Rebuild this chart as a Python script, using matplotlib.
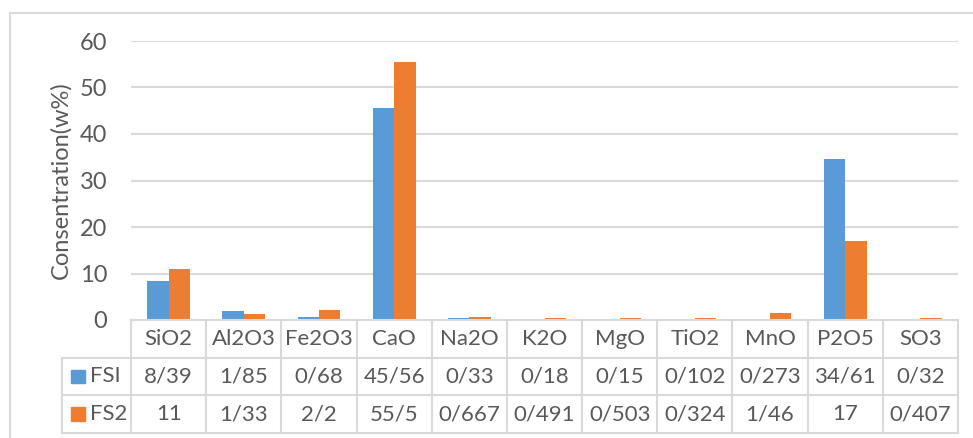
import numpy as np
import matplotlib
matplotlib.use("Agg")
import matplotlib.pyplot as plt
from matplotlib.patches import Rectangle

categories = ["SiO2", "Al2O3", "Fe2O3", "CaO", "Na2O", "K2O", "MgO", "TiO2", "MnO", "P2O5", "SO3"]
fsi = [8.39, 1.85, 0.68, 45.56, 0.33, 0.18, 0.15, 0.102, 0.273, 34.61, 0.32]
fs2 = [11, 1.33, 2.2, 55.5, 0.667, 0.491, 0.503, 0.324, 1.46, 17, 0.407]
fsi_labels = ["8/39", "1/85", "0/68", "45/56", "0/33", "0/18", "0/15", "0/102", "0/273", "34/61", "0/32"]
fs2_labels = ["11", "1/33", "2/2", "55/5", "0/667", "0/491", "0/503", "0/324", "1/46", "17", "0/407"]
series = [("FSI", fsi_labels, "#5b9bd5"), ("FS2", fs2_labels, "#ed7d31")]

W, H = 973, 438
txt = "#595959"
grid = "#d9d9d9"
fs = 17       # axis text
fs_tab = 16   # table text
plt.rcParams["font.family"] = ["Lato", "DejaVu Sans"]

fig = plt.figure(figsize=(W / 100, H / 100), dpi=100)

# outer chart border (only top and left visible in the crop)
fig.add_artist(plt.Line2D([9.5 / W, 1], [1 - 12.5 / H, 1 - 12.5 / H], color=grid, lw=1.5))
fig.add_artist(plt.Line2D([9.5 / W, 9.5 / W], [0, 1 - 12.5 / H], color=grid, lw=1.5))

x0, x1 = 131, 958
y_top, y_zero = 41, 320
ax = fig.add_axes([x0 / W, 1 - y_zero / H, (x1 - x0) / W, (y_zero - y_top) / H])
n = len(categories)
x = np.arange(n)
bw = 0.285
ax.bar(x - bw / 2, fsi, bw, color="#5b9bd5", zorder=3)
ax.bar(x + bw / 2, fs2, bw, color="#ed7d31", zorder=3)
ax.set_xlim(-0.5, n - 0.5)
ax.set_ylim(0, 60)
ax.set_yticks(range(0, 61, 10))
ax.yaxis.grid(True, color=grid, lw=1.5, zorder=0)
for s in ax.spines.values():
    s.set_visible(False)
ax.tick_params(axis="y", length=0, pad=17, labelsize=fs, labelcolor=txt)
ax.set_xticks([])
ax.set_ylabel("Consentration(w%)", fontsize=fs, color=txt, labelpad=6)

# data table below the plot
cw = (x1 - x0) / n
tl = 62
tb = 433
tax = fig.add_axes([tl / W, 1 - tb / H, (x1 - tl) / W, (tb - y_zero) / H])
left = -0.5 - (x0 - tl) / cw
tax.set_xlim(left, n - 0.5)
tax.set_ylim(3, 0)
tax.axis("off")
lk = dict(color=grid, lw=1.5, clip_on=False)
# horizontal lines
tax.plot([-0.5, n - 0.5], [0, 0], **lk)
for r in (1, 2, 3):
    tax.plot([left, n - 0.5], [r, r], **lk)
# vertical lines
tax.plot([left, left], [1, 3], **lk)
for i in range(n + 1):
    tax.plot([i - 0.5, i - 0.5], [0, 3], **lk)
for i, c in enumerate(categories):
    tax.text(i, 0.5, c, ha="center", va="center", fontsize=fs_tab, color=txt)
for r, (name, labels, col) in enumerate(series, start=1):
    for i, lab in enumerate(labels):
        tax.text(i, r + 0.5, lab, ha="center", va="center", fontsize=fs_tab, color=txt)
    sq = 14 / cw
    tax.add_patch(Rectangle((left + 9 / cw, r + 0.5 - 0.18), sq, 0.36, color=col, clip_on=False))
    tax.text(left + 28 / cw, r + 0.5, name, ha="left", va="center", fontsize=fs_tab, color=txt)

fig.savefig("out.png", dpi=100)
